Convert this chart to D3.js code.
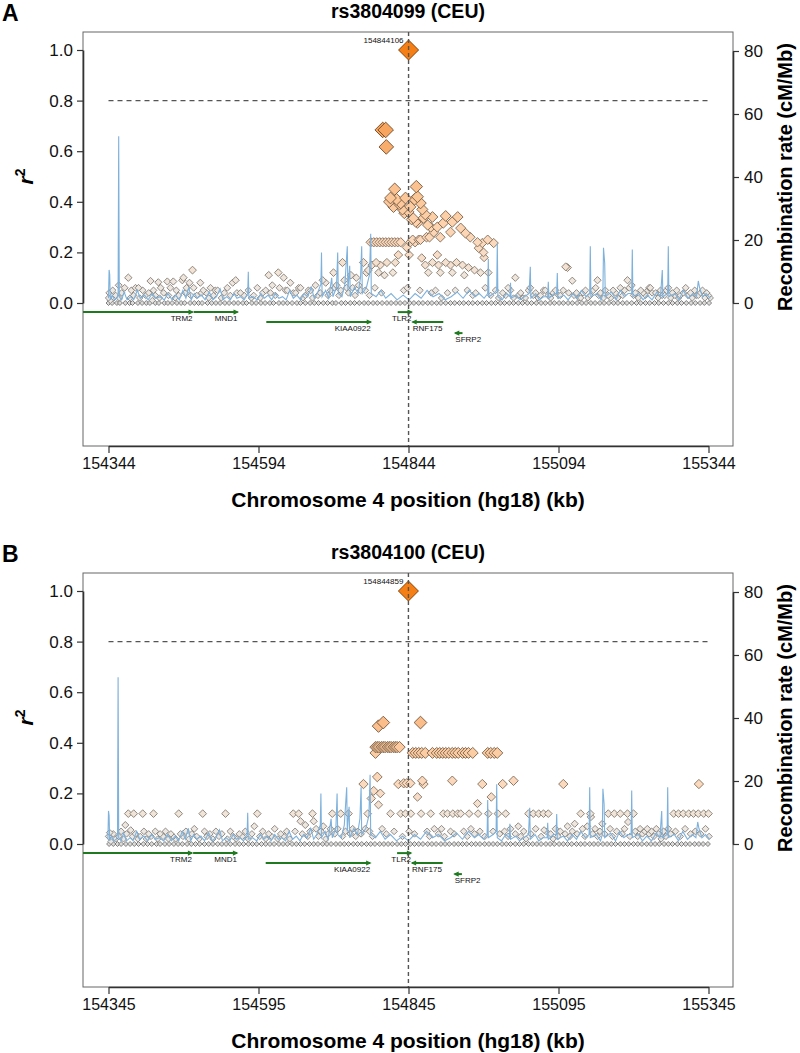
<!DOCTYPE html>
<html>
<head>
<meta charset="utf-8">
<script src="https://cdn.jsdelivr.net/npm/d3@7"></script>
<style>
body { margin: 0; background: #fff; }
svg text { font-family: "Liberation Sans", Arial, sans-serif; }
</style>
</head>
<body>
<div id="chart"></div>
<script>

// ---- data (positions in kb, hg18) ----

let xTicksA = [154344, 154594, 154844, 155094, 155344];
let xTicksB = [154345, 154595, 154845, 155095, 155345];
let r2Ticks = [0, 0.2, 0.4, 0.6, 0.8, 1.0];
let recTicks = [0, 20, 40, 60, 80];

let leadA = [154844.106, 1.0];
let leadB = [154844.859, 1.0];

// genes: name, start, end, strand, row
let geneNames = ["TRM2", "MND1", "KIAA0922", "TLR2", "RNF175", "SFRP2"];
let geneStart = [154280, 154486, 154607, 154826, 154851, 154922];
let geneEnd = [154484, 154559, 154781, 154849, 154902, 154934];
let geneStrand = ["+", "+", "+", "+", "-", "-"];
let geneRow = [0, 0, 1, 0, 1, 2];

// recombination rate (cM/Mb), same region for both plots
let recombRate = [
  [154344,1.5],[154345,10.5],[154346,9],[154347,1],[154350,2.5],[154354,1],[154358,1.5],[154360,3],[154361,52.9],[154362,2],
  [154366,1],[154370,3.5],[154375,1],[154381,2],[154386,1],[154392,4],[154397,1.5],[154404,2.5],[154410,1],[154417,3],
  [154423,1.5],[154430,2],[154437,1],[154443,3],[154450,1],[154456,2.5],[154462,1],[154468,4],[154473,1.5],[154478,5],
  [154482,1],[154487,3],[154492,1.5],[154499,2.5],[154505,1],[154512,3.5],[154518,1],[154524,2],[154530,4.5],[154535,1],
  [154541,2],[154547,1],[154553,3],[154558,1.5],[154564,2],[154570,1],[154576,3],[154577,9.9],[154578,1.5],[154585,2],
  [154592,1],[154598,3],[154604,1.5],[154610,2.5],[154616,1],[154622,3],[154628,1.5],[154634,2],[154640,1],[154646,4],
  [154652,1.5],[154658,2.5],[154664,1],[154670,3],[154676,2],[154682,5],[154687,1.5],[154692,3],[154698,6],[154699,16],
  [154700,2],[154706,4],[154711,1.5],[154716,8],[154718,2],[154724,5],[154726,16],[154727,3],[154733,2],[154738,6],
  [154742,18],[154743,4],[154746,11.8],[154747,2],[154754,5],[154760,3],[154764,8],[154766,18],[154767,3],[154774,5],
  [154779,9],[154781,22],[154782,3],[154790,2],[154798,4],[154806,1.5],[154815,3],[154825,1],[154835,2.5],[154845,1],
  [154855,3],[154865,1.5],[154875,4],[154885,2],[154895,3],[154905,1],[154915,2],[154925,3.5],[154935,1.5],[154945,4],
  [154955,2],[154962,3],[154970,1.5],[154976,3],[154977,14],[154978,2],[154986,3],[154991,4],[154992,19],[154993,2],[155000,1],[155007,3],
  [155013,2],[155014,6.4],[155015,1.5],[155024,2.5],[155030,1],[155045,3],[155047,11.5],[155048,1.5],[155056,3],[155062,1],[155069,2],
  [155076,2],[155077,6.7],[155078,1.5],[155087,3],[155091,3],[155092,9.5],[155093,1.5],[155103,2.5],[155110,1],[155118,3],[155125,1.5],[155132,4],
  [155140,2],[155146,3],[155147,18],[155148,2],[155158,3],[155165,1],[155168,3],[155169,17.5],[155171,12.7],[155172,2],[155182,3.5],[155190,1],
  [155197,4],[155204,2],[155210,3],[155216,3],[155217,17],[155218,2],[155228,3],[155235,1],[155242,2.5],[155250,1],[155258,3.5],
  [155264,2],[155267,10.5],[155268,2],[155276,3],[155277,18],[155278,2],[155288,3],[155295,1],[155302,4],[155310,1.5],[155318,3],
  [155324,2],[155327,7],[155329,5],[155334,2],[155340,3],[155347,1.5]
];

// SNPs with r2 = 0 (tiny markers along the baseline)
let zerosA = [154344,154350,154358,154363,154372,154379,154384,154393,154400,154407,154413,154422,154428,154437,154443,
  154450,154458,154465,154471,154480,154487,154494,154500,154509,154516,154523,154530,154538,154545,154553,154560,154568,
  154574,154583,154590,154598,154605,154613,154619,154628,154635,154642,154650,154658,154664,154672,154680,154687,154694,
  154702,154709,154717,154723,154732,154739,154747,154754,154762,154770,154777,154785,154792,154800,154808,154815,154823,
  154830,154838,154846,154853,154861,154868,154876,154883,154891,154898,154906,154914,154921,154929,154936,154944,154951,
  154959,154967,154974,154982,154989,154997,155004,155012,155019,155027,155034,155042,155049,155057,155065,155072,155080,
  155087,155095,155102,155110,155117,155125,155133,155140,155148,155155,155163,155170,155178,155186,155193,155201,155208,
  155216,155224,155231,155239,155246,155254,155261,155269,155277,155284,155292,155299,155307,155315,155322,155330,155337,155345];

let zerosB = [154346,154353,154360,154366,154374,154381,154388,154395,154403,154410,154417,154425,154431,154439,154446,
  154454,154461,154468,154476,154483,154490,154497,154505,154512,154519,154527,154534,154541,154548,154556,154563,154570,
  154578,154585,154592,154600,154607,154614,154621,154629,154636,154643,154651,154658,154665,154672,154680,154687,154694,
  154702,154709,154716,154724,154731,154738,154745,154753,154760,154767,154775,154782,154789,154797,154804,154811,154818,
  154826,154833,154840,154848,154855,154862,154869,154877,154884,154891,154899,154906,154913,154921,154928,154935,154942,
  154950,154957,154964,154972,154979,154986,154993,155001,155008,155015,155023,155030,155037,155045,155052,155059,155066,
  155074,155081,155088,155096,155103,155110,155117,155125,155132,155139,155147,155154,155161,155169,155176,155183,155190,
  155198,155205,155212,155220,155227,155234,155242,155249,155256,155263,155271,155278,155285,155293,155300,155307,155314,
  155322,155329,155336,155344];

// rs3804099: [position kb, r2]
let snpsA = [
  [154344,0.02],[154345,0.04],[154347,0.01],[154351,0.05],[154353,0.02],[154356,0.03],[154361,0.07],[154362,0.02],[154366,0.04],
  [154371,0.06],[154377,0.10],[154380,0.02],[154382,0.05],[154386,0.03],[154389,0.06],[154394,0.06],[154396,0.02],[154401,0.05],
  [154406,0.03],[154411,0.04],[154414,0.087],[154417,0.01],[154419,0.05],[154422,0.03],[154427,0.082],[154429,0.02],[154431,0.06],
  [154436,0.04],[154442,0.085],[154444,0.03],[154447,0.06],[154452,0.085],[154455,0.02],[154457,0.05],[154461,0.03],[154467,0.09],
  [154469,0.10],[154472,0.04],[154474,0.06],[154479,0.08],[154481,0.03],[154484,0.13],[154486,0.06],[154491,0.03],[154497,0.08],
  [154499,0.04],[154502,0.05],[154507,0.04],[154511,0.02],[154514,0.06],[154519,0.03],[154522,0.05],[154526,0.05],[154532,0.02],
  [154537,0.04],[154542,0.06],[154547,0.03],[154551,0.08],[154556,0.09],[154558,0.04],[154564,0.04],
  [154570,0.03],[154577,0.05],[154582,0.02],[154586,0.03],[154592,0.06],[154597,0.02],[154601,0.04],[154606,0.05],[154611,0.11],
  [154614,0.04],[154617,0.07],[154622,0.03],[154627,0.12],[154629,0.06],[154636,0.10],[154639,0.05],[154642,0.05],[154647,0.08],
  [154652,0.04],[154656,0.04],[154661,0.06],[154664,0.06],[154668,0.02],[154672,0.03],[154677,0.05],[154681,0.05],[154684,0.02],
  [154689,0.07],[154693,0.03],[154697,0.04],[154701,0.09],[154706,0.08],[154710,0.03],[154714,0.05],[154719,0.12],[154721,0.06],
  [154724,0.07],[154728,0.03],[154731,0.05],[154734,0.16],[154737,0.09],[154741,0.06],[154744,0.04],[154748,0.11],[154751,0.06],
  [154755,0.03],[154757,0.10],[154761,0.07],[154764,0.05],
  [154769,0.16],[154772,0.05],[154774,0.12],[154777,0.13],[154779,0.03],[154781,0.24],[154783,0.15],[154786,0.24],[154788,0.06],
  [154790,0.16],[154791,0.24],[154794,0.12],[154796,0.24],[154797,0.15],[154799,0.04],[154801,0.24],[154801,0.684],[154804,0.11],
  [154806,0.24],[154806,0.684],[154807,0.617],[154808,0.16],[154811,0.24],[154812,0.40],[154814,0.415],[154816,0.24],[154818,0.12],
  [154819,0.38],[154821,0.24],[154821,0.45],[154822,0.16],[154824,0.41],[154826,0.24],[154827,0.19],[154829,0.39],[154831,0.24],
  [154831,0.395],[154834,0.37],[154836,0.05],[154837,0.355],[154839,0.415],[154841,0.22],[154842,0.06],[154844,0.36],[154845,0.19],
  [154847,0.24],[154847,0.38],[154849,0.33],[154851,0.25],[154852,0.335],[154854,0.41],[154855,0.24],[154856,0.32],[154857,0.46],
  [154859,0.42],[154859,0.316],[154861,0.25],[154863,0.05],[154864,0.395],[154864,0.25],[154866,0.178],[154867,0.37],[154869,0.336],
  [154872,0.15],[154872,0.35],[154874,0.26],[154876,0.308],[154877,0.12],[154879,0.26],[154881,0.30],[154882,0.04],[154884,0.34],
  [154884,0.16],[154886,0.28],[154889,0.05],[154892,0.30],[154892,0.19],[154894,0.15],[154897,0.26],[154897,0.12],[154899,0.02],
  [154902,0.316],[154906,0.344],[154906,0.16],[154909,0.04],[154914,0.28],[154914,0.15],[154917,0.32],[154917,0.12],[154922,0.05],
  [154924,0.16],[154926,0.34],[154931,0.296],[154934,0.15],[154937,0.11],[154939,0.276],[154942,0.05],[154944,0.14],[154947,0.26],
  [154951,0.03],[154954,0.13],[154956,0.04],[154959,0.24],[154961,0.217],[154964,0.12],[154967,0.237],[154969,0.20],[154970,0.18],
  [154972,0.06],[154976,0.25],[154977,0.12],[154981,0.03],[154986,0.237],[154989,0.05],[154994,0.02],
  [155001,0.04],[155006,0.03],[155010,0.06],[155014,0.05],[155019,0.02],[155022,0.10],[155027,0.03],[155031,0.04],[155035,0.02],
  [155039,0.02],[155044,0.05],[155047,0.06],[155052,0.03],[155056,0.04],[155060,0.02],[155064,0.03],[155069,0.05],[155072,0.05],
  [155077,0.03],[155081,0.02],[155085,0.04],[155089,0.05],[155094,0.03],[155097,0.03],[155102,0.05],[155106,0.143],[155109,0.14],
  [155111,0.04],[155117,0.088],[155120,0.03],[155124,0.04],[155128,0.02],[155131,0.02],[155135,0.04],[155139,0.05],[155143,0.02],
  [155147,0.03],[155152,0.05],[155156,0.06],[155159,0.09],[155161,0.03],[155164,0.04],[155169,0.02],[155172,0.05],[155177,0.03],
  [155181,0.02],[155185,0.05],[155189,0.04],[155193,0.02],[155197,0.06],[155201,0.03],[155204,0.05],[155209,0.09],[155212,0.06],
  [155216,0.07],[155219,0.03],[155222,0.04],[155227,0.02],[155231,0.05],[155235,0.04],[155239,0.03],[155243,0.05],[155245,0.06],
  [155247,0.06],[155250,0.04],[155256,0.04],[155260,0.02],[155264,0.05],[155267,0.03],[155271,0.03],[155274,0.05],[155277,0.06],
  [155281,0.02],[155284,0.04],[155288,0.03],[155291,0.05],[155294,0.02],[155297,0.03],[155302,0.04],[155306,0.06],[155310,0.03],
  [155314,0.04],[155317,0.02],[155321,0.05],[155324,0.03],[155327,0.03],[155331,0.04],[155334,0.05],[155338,0.02],[155341,0.04],
  [155344,0.03],[155347,0.02]
];

// rs3804100: [position kb, r2]
let snpsB = [
  [154345,0.03],[154347,0.045],[154349,0.01],[154353,0.04],[154357,0.02],[154362,0.03],[154366,0.05],[154370,0.02],[154373,0.075],
  [154375,0.04],[154378,0.12],[154382,0.055],[154385,0.03],[154387,0.12],[154390,0.04],[154394,0.02],[154398,0.03],[154402,0.12],
  [154404,0.05],[154408,0.02],[154412,0.04],[154416,0.03],[154420,0.12],[154423,0.05],[154427,0.02],[154431,0.04],[154436,0.03],
  [154440,0.05],[154445,0.02],[154449,0.04],[154453,0.03],[154457,0.02],[154462,0.12],[154465,0.04],[154469,0.03],[154474,0.05],
  [154479,0.02],[154484,0.04],[154488,0.06],[154492,0.03],[154496,0.02],[154502,0.12],[154505,0.05],[154509,0.03],[154514,0.04],
  [154519,0.02],[154524,0.05],[154529,0.03],[154534,0.04],[154540,0.12],[154543,0.02],[154548,0.05],[154553,0.03],[154558,0.02],
  [154563,0.04],[154568,0.03],[154573,0.05],[154578,0.02],[154584,0.04],[154588,0.07],[154593,0.12],[154597,0.03],[154602,0.05],
  [154607,0.02],[154612,0.04],[154617,0.03],[154622,0.06],[154627,0.02],[154632,0.04],[154637,0.03],[154642,0.05],[154647,0.02],
  [154653,0.12],[154656,0.05],[154662,0.12],[154665,0.09],[154668,0.04],[154673,0.075],[154677,0.03],[154681,0.05],[154685,0.12],
  [154687,0.09],[154691,0.06],[154695,0.03],[154699,0.05],[154703,0.07],[154707,0.02],[154711,0.04],[154715,0.06],[154718,0.12],
  [154722,0.04],[154727,0.06],[154732,0.12],[154735,0.03],[154740,0.05],[154745,0.12],[154748,0.04],[154752,0.06],[154757,0.03],
  [154761,0.05],[154766,0.04],[154770,0.237],[154773,0.06],[154777,0.12],
  [154780,0.05],[154783,0.18],[154785,0.03],[154787,0.21],[154790,0.36],[154790,0.383],[154793,0.383],[154793,0.265],[154795,0.466],
  [154795,0.155],[154796,0.383],[154798,0.2],[154800,0.383],[154801,0.06],[154803,0.48],[154803,0.383],[154806,0.383],[154808,0.04],
  [154810,0.383],[154813,0.383],[154815,0.12],[154816,0.383],[154820,0.383],[154821,0.05],[154823,0.383],[154826,0.383],[154828,0.237],
  [154830,0.383],[154832,0.12],[154835,0.03],[154837,0.24],[154840,0.12],[154842,0.24],[154846,0.05],[154848,0.24],[154849,0.12],
  [154852,0.36],[154855,0.04],[154857,0.36],[154860,0.186],[154862,0.36],[154865,0.48],[154866,0.12],[154867,0.36],[154868,0.25],
  [154870,0.237],[154873,0.36],[154876,0.05],[154880,0.03],[154882,0.12],[154885,0.36],[154888,0.06],[154892,0.36],[154895,0.04],
  [154897,0.36],[154900,0.06],[154902,0.36],[154903,0.12],[154905,0.03],[154907,0.36],[154910,0.12],[154912,0.36],[154915,0.05],
  [154918,0.36],[154918,0.25],[154919,0.12],[154921,0.04],[154923,0.36],[154927,0.12],[154928,0.36],[154932,0.12],[154935,0.36],
  [154937,0.05],[154940,0.36],[154943,0.03],[154945,0.36],[154946,0.12],[154949,0.06],[154952,0.36],[154955,0.04],[154960,0.16],
  [154961,0.12],[154964,0.05],[154968,0.237],[154972,0.03],[154977,0.36],[154978,0.12],[154982,0.36],[154983,0.186],[154986,0.05],
  [154988,0.36],[154993,0.36],[154994,0.12],[154997,0.04],
  [155002,0.237],[155005,0.05],[155007,0.12],[155011,0.03],[155015,0.06],[155020,0.25],[155023,0.04],[155028,0.07],[155032,0.03],
  [155037,0.05],[155041,0.02],[155045,0.12],[155049,0.04],[155053,0.12],[155057,0.06],[155062,0.12],[155066,0.03],[155070,0.12],
  [155071,0.055],[155074,0.05],[155078,0.12],[155082,0.04],[155086,0.02],[155090,0.06],[155094,0.03],[155098,0.05],[155103,0.237],
  [155106,0.04],[155110,0.07],[155114,0.03],[155118,0.05],[155122,0.08],[155126,0.04],[155132,0.12],[155135,0.06],[155139,0.03],
  [155143,0.07],[155148,0.12],[155149,0.107],[155152,0.04],[155156,0.06],[155160,0.03],[155164,0.05],[155168,0.08],[155172,0.04],
  [155178,0.12],[155181,0.06],[155185,0.03],[155188,0.12],[155192,0.05],[155198,0.12],[155201,0.04],[155205,0.06],[155210,0.12],
  [155211,0.087],[155214,0.03],[155220,0.12],[155223,0.05],[155227,0.03],[155231,0.06],[155235,0.04],[155239,0.05],[155243,0.06],
  [155246,0.04],[155250,0.05],[155254,0.03],[155258,0.06],[155262,0.04],[155266,0.02],[155270,0.05],[155274,0.03],[155278,0.06],
  [155282,0.04],[155287,0.12],[155290,0.05],[155295,0.12],[155298,0.03],[155303,0.12],[155306,0.06],[155312,0.12],[155315,0.04],
  [155320,0.12],[155323,0.05],[155328,0.12],[155329,0.237],[155332,0.04],[155337,0.12],[155340,0.06],[155345,0.12],[155346,0.03]
];

// ---- drawing ----

let svg = d3.select("#chart").append("svg")
    .attr("width", 800)
    .attr("height", 1053);

// frame of each plot (relative to the panel)
let frame = {left: 83, right: 733, top: 32, bottom: 446};

let fillScale = d3.scaleLinear()
    .domain([0, 0.1, 0.2, 0.3, 0.45, 0.7, 1])
    .range(["#ebe8e5", "#efe6dd", "#f8dcc5", "#fdd4b0", "#fbc290", "#f8a35c", "#f57f14"]);
let strokeScale = d3.scaleLinear()
    .domain([0, 0.2, 0.5, 1])
    .range(["#858585", "#85725f", "#6e5036", "#6a3408"]);

let geneRowY = [-0.036, -0.075, -0.119];

function diamond(w) {
    let h = w / 2;
    return "M0," + (-h) + "L" + h + ",0L0," + h + "L" + (-h) + ",0Z";
}

function drawPanel(cfg) {
    let g = svg.append("g")
        .attr("transform", "translate(0," + cfg.top + ")");

    let x = d3.scaleLinear()
        .domain([cfg.ticks[0], cfg.ticks[cfg.ticks.length - 1]])
        .range([108.5, 708.5]);
    let y = d3.scaleLinear().domain([0, 1]).range([303, 50]);
    let yRec = d3.scaleLinear().domain([0, 80]).range([303, 51]);

    g.append("clipPath").attr("id", "clip" + cfg.letter)
        .append("rect")
        .attr("x", frame.left).attr("y", frame.top)
        .attr("width", frame.right - frame.left)
        .attr("height", frame.bottom - frame.top);

    // frame
    g.append("rect")
        .attr("x", frame.left).attr("y", frame.top)
        .attr("width", frame.right - frame.left)
        .attr("height", frame.bottom - frame.top)
        .attr("fill", "none")
        .attr("stroke", "#666")
        .attr("stroke-width", 1);

    // r2 = 0.8 threshold
    g.append("line")
        .attr("x1", x(cfg.ticks[0])).attr("x2", x(cfg.ticks[cfg.ticks.length - 1]))
        .attr("y1", y(0.8)).attr("y2", y(0.8))
        .attr("stroke", "#555")
        .attr("stroke-width", 1.4)
        .attr("stroke-dasharray", "5,4");

    let plot = g.append("g").attr("clip-path", "url(#clip" + cfg.letter + ")");

    // baseline SNPs (r2 = 0)
    plot.selectAll(".zero")
        .data(cfg.zeros)
        .enter().append("path")
        .attr("class", "zero")
        .attr("transform", d => "translate(" + x(d) + "," + y(0) + ")")
        .attr("d", diamond(5))
        .attr("fill", "#dcdad8")
        .attr("stroke", "#666")
        .attr("stroke-width", 0.8);

    let sorted = cfg.snps.slice().sort((a, b) => a[1] - b[1]);
    plot.selectAll(".snp")
        .data(sorted)
        .enter().append("path")
        .attr("class", "snp")
        .attr("transform", d => "translate(" + x(d[0]) + "," + y(d[1]) + ")")
        .attr("d", d => diamond(6 + 14 * d[1]))
        .attr("fill", d => fillScale(d[1]))
        .attr("stroke", d => strokeScale(d[1]))
        .attr("stroke-width", 0.9);

    // recombination rate
    let line = d3.line()
        .x(d => x(d[0]))
        .y(d => yRec(d[1]));
    plot.append("path")
        .datum(recombRate)
        .attr("d", line)
        .attr("fill", "none")
        .attr("stroke", "#7eb1db")
        .attr("stroke-width", 1.1);

    // genes
    geneNames.forEach((name, i) => {
        let gy = y(geneRowY[geneRow[i]]);
        let x0 = x(geneStart[i]), x1 = x(geneEnd[i]);
        plot.append("line")
            .attr("x1", x0).attr("x2", x1)
            .attr("y1", gy).attr("y2", gy)
            .attr("stroke", "#1f7a1f")
            .attr("stroke-width", 2);
        let tip = geneStrand[i] === "+" ? x1 : x0;
        let dir = geneStrand[i] === "+" ? 1 : -1;
        plot.append("path")
            .attr("d", "M" + (tip + dir * 1.5) + "," + gy + "L" + (tip - dir * 4) + "," + (gy - 2.6) +
                "L" + (tip - dir * 4) + "," + (gy + 2.6) + "Z")
            .attr("fill", "#1f7a1f");
        g.append("text")
            .attr("x", tip)
            .attr("y", gy + 9)
            .attr("text-anchor", geneStrand[i] === "+" ? "end" : "start")
            .attr("font-size", 8)
            .attr("fill", "#111")
            .text(name);
    });

    // lead SNP
    plot.append("path")
        .attr("transform", "translate(" + x(cfg.lead[0]) + "," + y(cfg.lead[1]) + ")")
        .attr("d", diamond(20))
        .attr("fill", "#f57f14")
        .attr("stroke", "#8a4208")
        .attr("stroke-width", 1);

    g.append("text")
        .attr("x", x(cfg.lead[0]) - 5)
        .attr("y", 43)
        .attr("text-anchor", "end")
        .attr("font-size", 8)
        .attr("fill", "#111")
        .text(cfg.leadLabel);

    // vertical line at lead SNP
    g.append("line")
        .attr("x1", x(cfg.lead[0])).attr("x2", x(cfg.lead[0]))
        .attr("y1", frame.top).attr("y2", frame.bottom)
        .attr("stroke", "#555")
        .attr("stroke-width", 1.4)
        .attr("stroke-dasharray", "4,3");

    // axes
    let leftAxis = g.append("g")
        .attr("transform", "translate(" + frame.left + ",0)")
        .call(d3.axisLeft(y).tickValues(r2Ticks).tickFormat(d3.format(".1f"))
            .tickSize(6).tickPadding(4).tickSizeOuter(0));

    let rightAxis = g.append("g")
        .attr("transform", "translate(" + frame.right + ",0)")
        .call(d3.axisRight(yRec).tickValues(recTicks).tickSize(6).tickPadding(5).tickSizeOuter(0));

    let bottomAxis = g.append("g")
        .attr("transform", "translate(0," + frame.bottom + ")")
        .call(d3.axisBottom(x).tickValues(cfg.ticks).tickFormat(d3.format("d"))
            .tickSize(7).tickPadding(5).tickSizeOuter(0));

    [leftAxis, rightAxis].forEach(a => {
        a.attr("font-size", 17).attr("font-family", "Liberation Sans, Arial, sans-serif");
    });
    bottomAxis.attr("font-size", 16).attr("font-family", "Liberation Sans, Arial, sans-serif");
    [leftAxis, rightAxis, bottomAxis].forEach(a => {
        a.selectAll("path.domain").attr("stroke", "#333").attr("stroke-width", 1.6);
        a.selectAll(".tick line").attr("stroke", "#333").attr("stroke-width", 1.2);
        a.selectAll(".tick text").attr("fill", "#111");
    });

    // titles
    g.append("text")
        .attr("x", 2).attr("y", 21)
        .attr("font-size", 23).attr("font-weight", "bold")
        .text(cfg.letter);

    g.append("text")
        .attr("x", (frame.left + frame.right) / 2).attr("y", 18)
        .attr("text-anchor", "middle")
        .attr("font-size", 19.5).attr("font-weight", "bold")
        .text(cfg.title);

    g.append("text")
        .attr("x", (frame.left + frame.right) / 2).attr("y", 507)
        .attr("text-anchor", "middle")
        .attr("font-size", 21).attr("font-weight", "bold")
        .text("Chromosome 4 position (hg18) (kb)");

    let r2Label = g.append("text")
        .attr("transform", "translate(33," + ((y(0) + y(1)) / 2) + ") rotate(-90)")
        .attr("text-anchor", "middle")
        .attr("font-size", 21).attr("font-weight", "bold").attr("font-style", "italic")
        .text("r");
    r2Label.append("tspan")
        .attr("dy", -8).attr("font-size", 14).attr("font-style", "normal")
        .text("2");

    g.append("text")
        .attr("transform", "translate(792," + ((yRec(0) + yRec(80)) / 2) + ") rotate(-90)")
        .attr("text-anchor", "middle")
        .attr("font-size", 20).attr("font-weight", "bold")
        .text("Recombination rate (cM/Mb)");
}

drawPanel({top: 0, letter: "A", title: "rs3804099 (CEU)", ticks: xTicksA,
    lead: leadA, leadLabel: "154844106", snps: snpsA, zeros: zerosA});
drawPanel({top: 541, letter: "B", title: "rs3804100 (CEU)", ticks: xTicksB,
    lead: leadB, leadLabel: "154844859", snps: snpsB, zeros: zerosB});

</script>
</body>
</html>
